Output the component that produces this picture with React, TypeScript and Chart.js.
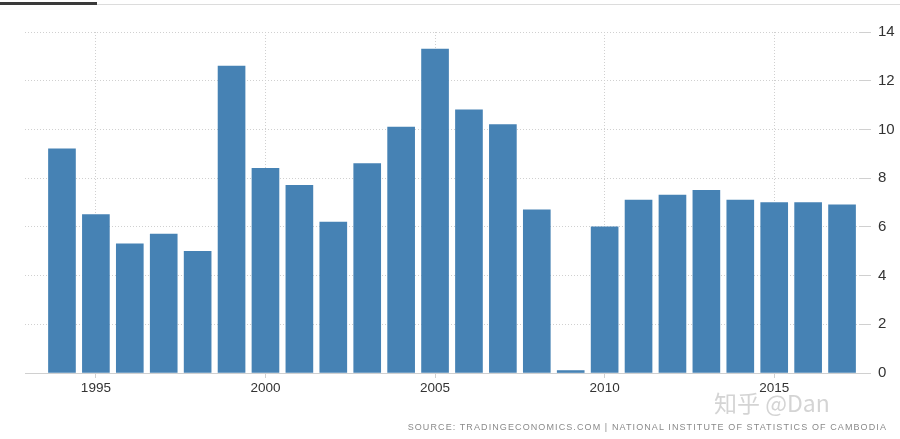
import React, { useEffect, useRef } from "react";
import { Chart, registerables } from "chart.js";

Chart.register(...registerables);

const years = [1994, 1995, 1996, 1997, 1998, 1999, 2000, 2001, 2002, 2003, 2004, 2005, 2006, 2007, 2008, 2009, 2010, 2011, 2012, 2013, 2014, 2015, 2016, 2017];
const growth = [9.2, 6.5, 5.3, 5.7, 5.0, 12.6, 8.4, 7.7, 6.2, 8.6, 10.1, 13.3, 10.8, 10.2, 6.7, 0.1, 6.0, 7.1, 7.3, 7.5, 7.1, 7.0, 7.0, 6.9];
const xTickYears = [1995, 2000, 2005, 2010, 2015];
const yTicks = [0, 2, 4, 6, 8, 10, 12, 14];
const sourceText = "SOURCE: TRADINGECONOMICS.COM | NATIONAL INSTITUTE OF STATISTICS OF CAMBODIA";
const watermark = "知乎 @Dan";

export default function App() {
  const ref = useRef<HTMLCanvasElement>(null);
  useEffect(() => {
    document.body.style.margin = "0";
    const ctx = ref.current!;
    const chart = new Chart(ctx, {
      type: "bar",
      data: {
        datasets: [
          {
            data: years.map((y, i) => ({ x: y, y: growth[i] })),
            backgroundColor: "#4682b4",
            barThickness: 27,
            borderWidth: 0,
          },
        ],
      },
      options: {
        animation: false,
        responsive: false,
        maintainAspectRatio: false,
        layout: { padding: { left: 25, right: 0, top: 32, bottom: 0 } },
        plugins: { legend: { display: false }, tooltip: { enabled: false } },
        scales: {
          x: {
            type: "linear",
            offset: false,
            min: 1992.91,
            max: 2017.5,
            afterBuildTicks: (s: any) => {
              s.ticks = xTickYears.map((v) => ({ value: v }));
            },
            afterFit: (s: any) => {
              s.height = 66;
            },
            ticks: {
              callback: (v: any) => String(v),
              color: "#333",
              font: { family: "'Liberation Sans', Arial, sans-serif", size: 13.5 },
              padding: 2,
              maxRotation: 0,
              autoSkip: false,
            },
            grid: {
              offset: false,
              color: "#d0d0d0",
              tickColor: "#d0d0d0",
              tickLength: 5,
            },
            border: { display: true, color: "#d0d0d0", dash: [1, 2] },
          },
          y: {
            position: "right",
            min: 0,
            max: 14,
            afterBuildTicks: (s: any) => {
              s.ticks = yTicks.map((v) => ({ value: v }));
            },
            afterFit: (s: any) => {
              s.width = 41;
            },
            ticks: {
              color: "#333",
              font: { family: "'Liberation Sans', Arial, sans-serif", size: 15 },
              padding: 7,
            },
            grid: {
              color: "#d0d0d0",
              tickColor: "#d0d0d0",
              tickLength: 12,
            },
            border: { display: false, dash: [1, 2] },
          },
        },
      },
    });
    return () => chart.destroy();
  }, []);

  return (
    <div style={{ position: "relative", width: 900, height: 439, background: "#fff", overflow: "hidden" }}>
      <div style={{ position: "absolute", left: 0, top: 2, width: 97, height: 3, background: "#3a3a3a" }} />
      <div style={{ position: "absolute", left: 97, top: 4, width: 803, height: 1, background: "#dcdcdc" }} />
      <canvas ref={ref} width={900} height={439} style={{ position: "absolute", left: 0, top: 0 }} />
      <div
        style={{
          position: "absolute",
          left: 714,
          top: 385,
          fontFamily: "'Noto Sans CJK SC', sans-serif",
          fontSize: 23,
          color: "#d4d4d4",
          whiteSpace: "nowrap",
        }}
      >
        {watermark}
      </div>
      <div
        style={{
          position: "absolute",
          right: 13,
          top: 422,
          fontFamily: "'Liberation Sans', Arial, sans-serif",
          fontSize: 9,
          letterSpacing: 1.1,
          color: "#8a8a8a",
          whiteSpace: "nowrap",
        }}
      >
        {sourceText}
      </div>
    </div>
  );
}
